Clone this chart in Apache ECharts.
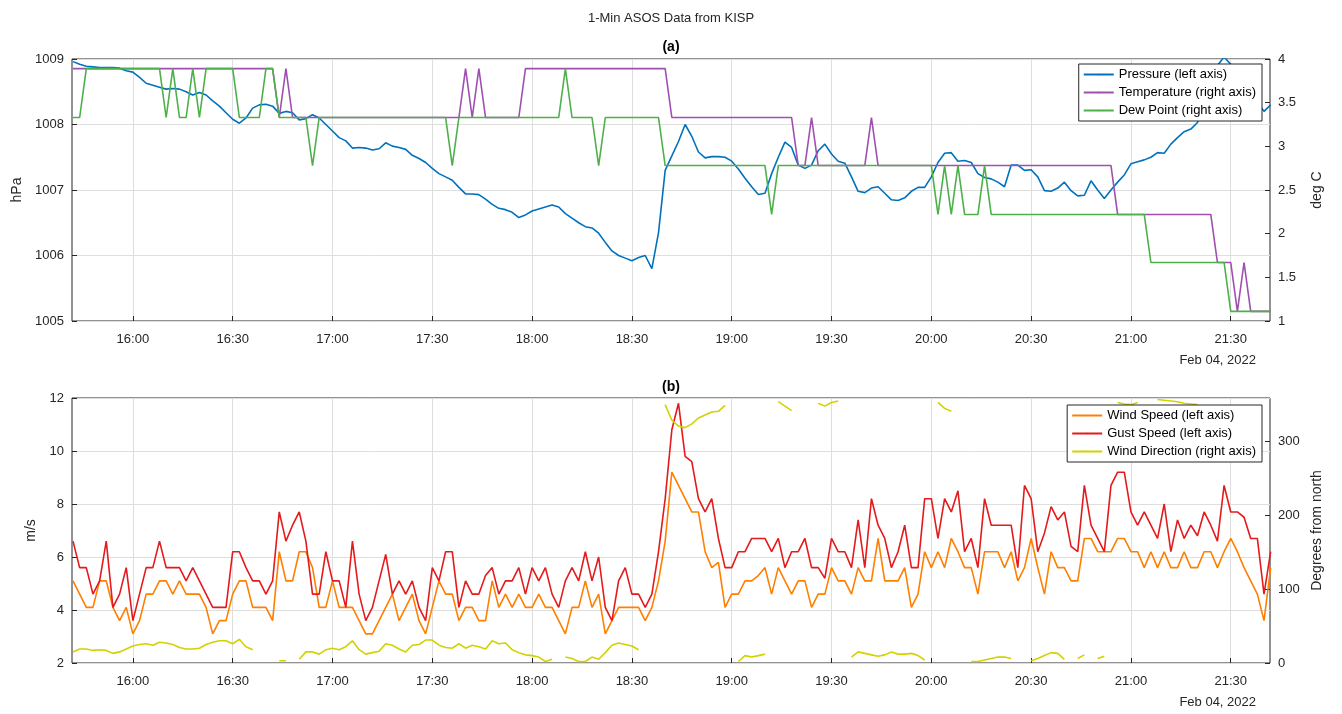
<!DOCTYPE html>
<html>
<head>
<meta charset="utf-8">
<script src="https://cdn.jsdelivr.net/npm/echarts@6/dist/echarts.min.js"></script>
<style>
html,body{margin:0;padding:0;background:#fff}
#chart{width:1342px;height:714px}
</style>
</head>
<body>
<div id="chart"></div>
<script>
// samples every 2 minutes, first sample at 15:42 (minutes counted from 15:00)
var startMin = 42;
var stepMin = 2;
var tickMinutes = [60, 90, 120, 150, 180, 210, 240, 270, 300, 330, 360, 390];

var pressure = [
 1008.96,1008.92,1008.89,1008.88,1008.87,1008.87,1008.87,1008.86,1008.82,1008.80,
 1008.72,1008.63,1008.60,1008.57,1008.54,1008.55,1008.54,1008.50,1008.45,1008.49,
 1008.45,1008.36,1008.28,1008.18,1008.08,1008.02,1008.10,1008.25,1008.30,1008.31,
 1008.28,1008.17,1008.20,1008.18,1008.07,1008.09,1008.15,1008.10,1008.00,1007.90,
 1007.80,1007.75,1007.64,1007.65,1007.64,1007.61,1007.63,1007.72,1007.67,1007.65,
 1007.62,1007.53,1007.48,1007.42,1007.33,1007.25,1007.20,1007.15,1007.04,1006.94,
 1006.94,1006.93,1006.86,1006.78,1006.72,1006.70,1006.66,1006.58,1006.62,1006.68,
 1006.71,1006.74,1006.77,1006.74,1006.64,1006.57,1006.50,1006.44,1006.42,1006.34,
 1006.20,1006.07,1006.00,1005.96,1005.92,1005.97,1006.00,1005.80,1006.35,1007.30,
 1007.52,1007.74,1008.00,1007.82,1007.58,1007.49,1007.51,1007.51,1007.50,1007.44,
 1007.32,1007.18,1007.05,1006.93,1006.95,1007.25,1007.50,1007.73,1007.65,1007.38,
 1007.33,1007.38,1007.60,1007.70,1007.55,1007.44,1007.41,1007.20,1006.98,1006.96,
 1007.03,1007.05,1006.95,1006.85,1006.84,1006.88,1006.98,1007.04,1007.04,1007.20,
 1007.42,1007.56,1007.57,1007.44,1007.45,1007.42,1007.25,1007.19,1007.17,1007.12,
 1007.05,1007.38,1007.38,1007.30,1007.31,1007.20,1006.99,1006.98,1007.03,1007.12,
 1006.99,1006.91,1006.92,1007.14,1007.00,1006.87,1007.00,1007.12,1007.23,1007.40,
 1007.43,1007.46,1007.50,1007.57,1007.56,1007.70,1007.80,1007.89,1007.93,1008.03,
 1008.30,1008.55,1008.90,1009.03,1008.92,1008.72,1008.60,1008.50,1008.35,1008.20,
 1008.30
];

var temperature = [
 3.89,3.89,3.89,3.89,3.89,3.89,3.89,3.89,3.89,3.89,
 3.89,3.89,3.89,3.89,3.89,3.89,3.89,3.89,3.89,3.89,
 3.89,3.89,3.89,3.89,3.89,3.89,3.89,3.89,3.89,3.89,
 3.89,3.33,3.89,3.33,3.33,3.33,3.33,3.33,3.33,3.33,
 3.33,3.33,3.33,3.33,3.33,3.33,3.33,3.33,3.33,3.33,
 3.33,3.33,3.33,3.33,3.33,3.33,3.33,3.33,3.33,3.89,
 3.33,3.89,3.33,3.33,3.33,3.33,3.33,3.33,3.89,3.89,
 3.89,3.89,3.89,3.89,3.89,3.89,3.89,3.89,3.89,3.89,
 3.89,3.89,3.89,3.89,3.89,3.89,3.89,3.89,3.89,3.89,
 3.33,3.33,3.33,3.33,3.33,3.33,3.33,3.33,3.33,3.33,
 3.33,3.33,3.33,3.33,3.33,3.33,3.33,3.33,3.33,2.78,
 2.78,3.33,2.78,2.78,2.78,2.78,2.78,2.78,2.78,2.78,
 3.33,2.78,2.78,2.78,2.78,2.78,2.78,2.78,2.78,2.78,
 2.78,2.78,2.78,2.78,2.78,2.78,2.78,2.78,2.78,2.78,
 2.78,2.78,2.78,2.78,2.78,2.78,2.78,2.78,2.78,2.78,
 2.78,2.78,2.78,2.78,2.78,2.78,2.78,2.22,2.22,2.22,
 2.22,2.22,2.22,2.22,2.22,2.22,2.22,2.22,2.22,2.22,
 2.22,2.22,1.67,1.67,1.67,1.11,1.67,1.11,1.11,1.11,
 1.11
];

var dewPoint = [
 3.33,3.33,3.89,3.89,3.89,3.89,3.89,3.89,3.89,3.89,
 3.89,3.89,3.89,3.89,3.33,3.89,3.33,3.33,3.89,3.33,
 3.89,3.89,3.89,3.89,3.89,3.33,3.33,3.33,3.33,3.89,
 3.89,3.33,3.33,3.33,3.33,3.33,2.78,3.33,3.33,3.33,
 3.33,3.33,3.33,3.33,3.33,3.33,3.33,3.33,3.33,3.33,
 3.33,3.33,3.33,3.33,3.33,3.33,3.33,2.78,3.33,3.33,
 3.33,3.33,3.33,3.33,3.33,3.33,3.33,3.33,3.33,3.33,
 3.33,3.33,3.33,3.33,3.89,3.33,3.33,3.33,3.33,2.78,
 3.33,3.33,3.33,3.33,3.33,3.33,3.33,3.33,3.33,2.78,
 2.78,2.78,2.78,2.78,2.78,2.78,2.78,2.78,2.78,2.78,
 2.78,2.78,2.78,2.78,2.78,2.22,2.78,2.78,2.78,2.78,
 2.78,2.78,2.78,2.78,2.78,2.78,2.78,2.78,2.78,2.78,
 2.78,2.78,2.78,2.78,2.78,2.78,2.78,2.78,2.78,2.78,
 2.22,2.78,2.22,2.78,2.22,2.22,2.22,2.78,2.22,2.22,
 2.22,2.22,2.22,2.22,2.22,2.22,2.22,2.22,2.22,2.22,
 2.22,2.22,2.22,2.22,2.22,2.22,2.22,2.22,2.22,2.22,
 2.22,2.22,1.67,1.67,1.67,1.67,1.67,1.67,1.67,1.67,
 1.67,1.67,1.67,1.67,1.11,1.11,1.11,1.11,1.11,1.11,
 1.11
];

var windSpeed = [
 5.1,4.6,4.1,4.1,5.1,5.1,4.1,3.6,4.1,3.1,
 3.6,4.6,4.6,5.1,5.1,4.6,5.1,4.6,4.6,4.6,
 4.1,3.1,3.6,3.6,4.6,5.1,5.1,4.1,4.1,4.1,
 3.6,6.2,5.1,5.1,6.2,6.2,5.6,4.1,4.1,5.1,
 4.1,4.1,4.1,3.6,3.1,3.1,3.6,4.1,4.6,3.6,
 4.1,4.6,3.6,3.1,4.1,5.1,4.6,4.6,3.6,4.1,
 4.1,3.6,3.6,5.1,4.1,4.6,4.1,4.6,4.1,4.1,
 4.6,4.1,4.1,3.6,3.1,4.1,4.1,5.1,4.1,4.6,
 3.1,3.6,4.1,4.1,4.1,4.1,3.6,4.1,5.1,6.6,
 9.2,8.7,8.2,7.7,7.7,6.2,5.6,5.8,4.1,4.6,
 4.6,5.1,5.1,5.3,5.6,4.6,5.6,5.1,4.6,5.1,
 5.1,4.1,4.6,4.6,5.6,5.1,5.1,4.6,5.6,5.1,
 5.1,6.7,5.1,5.1,5.1,5.6,4.1,4.6,6.2,5.6,
 6.2,5.6,6.7,6.2,5.6,5.6,4.6,6.2,6.2,6.2,
 5.6,6.2,5.1,5.6,6.7,5.6,4.6,6.2,5.6,5.6,
 5.1,5.1,6.7,6.7,6.2,6.2,6.2,6.7,6.7,6.2,
 6.2,5.6,6.2,5.6,6.2,5.6,5.6,6.2,5.6,5.6,
 6.2,6.2,5.6,6.2,6.7,6.2,5.6,5.1,4.6,3.6,
 5.6
];

var gustSpeed = [
 6.6,5.6,5.6,4.6,5.1,6.6,4.1,4.6,5.6,3.6,
 4.6,5.6,5.6,6.6,5.6,5.6,5.6,5.1,5.6,5.1,
 4.6,4.1,4.1,4.1,6.2,6.2,5.6,5.1,5.1,4.6,
 5.1,7.7,6.6,7.2,7.7,6.6,4.6,4.6,6.2,5.1,
 5.1,4.1,6.6,4.6,3.6,4.1,5.1,6.1,4.6,5.1,
 4.6,5.1,4.1,3.6,5.6,5.1,6.2,6.2,4.1,5.1,
 4.6,4.6,5.3,5.6,4.6,5.1,5.1,5.6,4.6,5.6,
 5.1,5.6,4.6,4.1,5.1,5.6,5.1,6.2,5.1,6.0,
 4.1,3.6,5.1,5.6,4.6,4.6,4.1,4.6,6.2,8.2,
 10.8,11.8,9.8,9.6,8.2,7.7,8.2,6.7,5.6,5.6,
 6.2,6.2,6.7,6.7,6.7,6.2,6.7,5.6,6.2,6.2,
 6.7,5.6,5.6,5.2,6.7,6.2,6.2,5.6,7.4,5.6,
 8.2,7.2,6.7,5.6,6.2,7.2,5.6,5.6,8.2,8.2,
 6.7,8.2,7.7,8.5,6.2,6.7,5.6,8.2,7.2,7.2,
 7.2,7.2,5.6,8.7,8.2,6.2,6.9,7.9,7.4,7.7,
 6.4,6.2,8.7,7.2,6.7,6.2,8.7,9.2,9.2,7.7,
 7.2,7.7,7.2,6.7,8.0,6.2,7.4,6.7,7.2,6.8,
 7.7,7.2,6.6,8.7,7.7,7.7,7.5,6.7,6.7,4.6,
 6.2
];

var windDir = [
 15,19,19,17,18,17,13,15,19,23,
 25,26,24,28,27,25,21,19,19,20,
 25,28,30,30,26,32,22,18,null,null,
 null,3,3,null,5,15,15,12,18,20,
 18,22,30,18,12,14,16,26,24,19,
 15,24,25,31,31,24,21,20,26,20,
 24,22,19,30,26,27,18,14,11,10,
 8,2,5,null,8,6,2,2,8,5,
 14,24,27,25,23,18,null,null,null,349,
 328,320,318,323,331,335,339,340,348,null,
 2,10,8,10,12,null,353,347,341,null,
 8,null,351,347,352,354,null,8,15,13,
 11,9,11,15,12,12,13,10,4,null,
 352,344,340,null,null,2,2,4,6,8,
 8,6,null,null,3,6,10,14,13,5,
 null,6,11,null,6,9,null,352,350,349,
 352,null,null,356,355,354,353,351,350,349,
 null,null,null,null,null,null,null,null,null,3,
 null
];

function pairs(vals) {
  return vals.map(function (v, i) { return [startMin + i * stepMin, v]; });
}
function fmtTime(v) {
  var h = 15 + Math.floor(v / 60), m = Math.round(v % 60);
  return h + ':' + (m < 10 ? '0' : '') + m;
}

var font = 'Liberation Sans, Arial, sans-serif';
var gridLine = { show: true, lineStyle: { color: '#dedede' } };
var axisTxt = { color: '#262626', fontSize: 13, fontFamily: font };

function xAxisFor(gi) {
  return {
    type: 'value', gridIndex: gi, min: 41.7, max: 401.8,
    axisLine: { show: false },
    axisTick: { inside: true, length: 5, customValues: tickMinutes, lineStyle: { color: '#262626' } },
    axisLabel: Object.assign({ customValues: tickMinutes, formatter: fmtTime, margin: 12 }, axisTxt),
    splitLine: gridLine
  };
}
function yAxisFor(gi, pos, min, max, interval, name, split, gap) {
  return {
    type: 'value', gridIndex: gi, position: pos, min: min, max: max, interval: interval,
    name: name, nameLocation: 'middle', nameGap: gap, nameRotate: 90,
    nameTextStyle: { color: '#262626', fontSize: 14, fontFamily: font },
    axisLine: { show: false },
    axisTick: { show: true, inside: true, length: 5, lineStyle: { color: '#262626' } },
    axisLabel: Object.assign({ showMaxLabel: max % interval === 0, formatter: function (v) { return String(v); } }, axisTxt),
    splitLine: split ? gridLine : { show: false }
  };
}
function line(name, xi, yi, vals, color) {
  return {
    name: name, type: 'line', xAxisIndex: xi, yAxisIndex: yi, data: pairs(vals),
    symbol: 'none', lineStyle: { width: 1.6, color: color }, itemStyle: { color: color },
    connectNulls: false, animation: false
  };
}
var legendBase = {
  orient: 'vertical', right: 80, itemWidth: 30, itemHeight: 2, itemGap: 5,
  backgroundColor: '#fff', borderColor: '#262626', borderWidth: 1, borderRadius: 0,
  padding: [4, 6, 4, 4], textStyle: { color: '#000', fontSize: 13, fontFamily: font }
};

var myChart = echarts.init(document.getElementById('chart'));
var option = {
  backgroundColor: '#fff',
  title: [
    { text: '1-Min ASOS Data from KISP', left: 'center', top: 7, textStyle: { fontSize: 13, fontWeight: 'normal', color: '#262626', fontFamily: font } },
    { text: '(a)', left: 'center', top: 35, textStyle: { fontSize: 14, fontWeight: 'bold', color: '#000', fontFamily: font } },
    { text: '(b)', left: 'center', top: 375, textStyle: { fontSize: 14, fontWeight: 'bold', color: '#000', fontFamily: font } }
  ],
  graphic: [
    { type: 'text', right: 86, top: 354, style: { text: 'Feb 04, 2022', fill: '#262626', font: '13px ' + font } },
    { type: 'text', right: 86, top: 696, style: { text: 'Feb 04, 2022', fill: '#262626', font: '13px ' + font } }
  ],
  legend: [
    Object.assign({ top: 64, data: ['Pressure (left axis)', 'Temperature (right axis)', 'Dew Point (right axis)'] }, legendBase),
    Object.assign({ top: 405, data: ['Wind Speed (left axis)', 'Gust Speed (left axis)', 'Wind Direction (right axis)'] }, legendBase)
  ],
  grid: [
    { left: 72, right: 72, top: 59, height: 262, show: true, borderColor: '#262626', borderWidth: 1 },
    { left: 72, right: 72, top: 398, height: 265, show: true, borderColor: '#262626', borderWidth: 1 }
  ],
  xAxis: [xAxisFor(0), xAxisFor(1)],
  yAxis: [
    yAxisFor(0, 'left', 1005, 1009, 1, 'hPa', true, 48),
    yAxisFor(0, 'right', 1, 4, 0.5, 'deg C', false, 40),
    yAxisFor(1, 'left', 2, 12, 2, 'm/s', true, 30),
    yAxisFor(1, 'right', 0, 358, 100, 'Degrees from north', false, 40)
  ],
  series: [
    line('Pressure (left axis)', 0, 0, pressure, '#0072BD'),
    line('Temperature (right axis)', 0, 1, temperature, '#9E4FB0'),
    line('Dew Point (right axis)', 0, 1, dewPoint, '#4DB04A'),
    line('Wind Speed (left axis)', 1, 2, windSpeed, '#FF7F00'),
    line('Gust Speed (left axis)', 1, 2, gustSpeed, '#E41A1C'),
    line('Wind Direction (right axis)', 1, 3, windDir, '#D2D200')
  ]
};
myChart.setOption(option);
</script>
</body>
</html>
